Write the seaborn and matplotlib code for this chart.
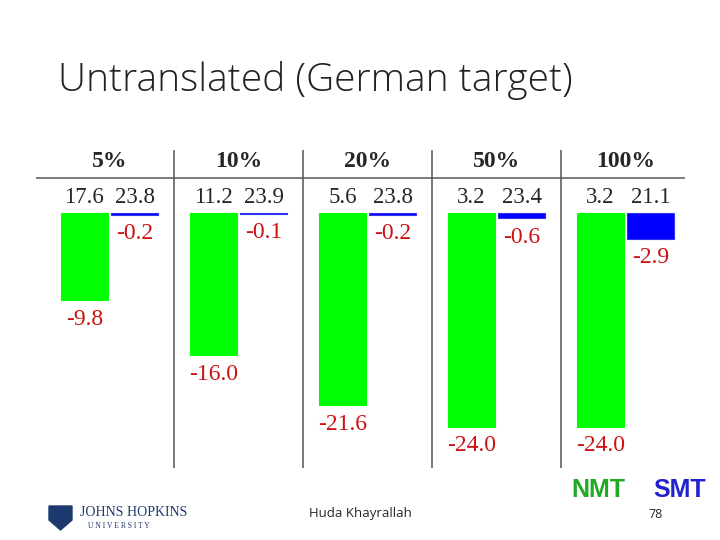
import matplotlib
matplotlib.use("Agg")
import matplotlib.pyplot as plt
import pandas as pd
import seaborn as sns
from matplotlib.patches import Polygon

# Dữ liệu bảng: tỉ lệ dữ liệu huấn luyện, BLEU gốc và mức thay đổi
pcts = ["5%", "10%", "20%", "50%", "100%"]
systems = ["NMT", "SMT"]
nmt_bleu = [17.6, 11.2, 5.6, 3.2, 3.2]
smt_bleu = [23.8, 23.9, 23.8, 23.4, 21.1]
nmt_change = [-9.8, -16.0, -21.6, -24.0, -24.0]
smt_change = [-0.2, -0.1, -0.2, -0.6, -2.9]

df = pd.DataFrame({
    "pct": pcts * 2,
    "system": ["NMT"] * 5 + ["SMT"] * 5,
    "change": nmt_change + smt_change,
    "bleu": nmt_bleu + smt_bleu,
})

sns.set_style("white")
plt.rcParams["font.family"] = ["DejaVu Sans"]

serif = "Liberation Serif"
red = "#cc1111"

fig = plt.figure(figsize=(7.2, 5.4), dpi=100)
ax = fig.add_axes([36 / 720, 1 - 468 / 540, 649 / 720, 318 / 540])

sns.barplot(data=df, x="pct", y="change", hue="system", order=pcts,
            hue_order=systems, palette={"NMT": "#00ff00", "SMT": "#0000ff"},
            width=0.78, gap=0.06, saturation=1, legend=False, ax=ax)
# viền cùng màu để các cột rất mỏng vẫn hiện ra
for cont, col in zip(ax.containers, ["#00ff00", "#3030ee"]):
    for bar in cont:
        bar.set_edgecolor(col)
        bar.set_linewidth(0.8)

ax.set_xlim(-0.570, 4.461)
ax.set_ylim(-28.65, 7.08)
ax.axis("off")

# Nhãn thay đổi màu đỏ dưới mỗi cột
for cont, vals in zip(ax.containers, [nmt_change, smt_change]):
    ax.bar_label(cont, labels=[f"{v:.1f}" for v in vals], padding=6,
                 color=red, fontsize=17, family=serif)

# Hàng BLEU phía trên cột
for cont, vals in zip(ax.containers, [nmt_bleu, smt_bleu]):
    for bar, v in zip(cont, vals):
        ax.text(bar.get_x() + bar.get_width() / 2, 1.7, f"{v:.1f}",
                ha="center", va="center", fontsize=16.5, family=serif)

# Tiêu đề cột
for i, p in enumerate(pcts):
    ax.text(i, 5.75, p, ha="center", va="center", fontsize=17,
            fontweight="bold", family=serif)

ax.axhline(3.93, color="#666666", lw=1.2)
for xs in [0.5, 1.5, 2.5, 3.5]:
    ax.axvline(xs, color="#555555", lw=1.1)

fig.text(58 / 720, 1 - 80 / 540, "Untranslated (German target)",
         fontsize=28, family="Open Sans", fontweight="light",
         ha="left", va="center", color="#222222")

fig.text(598 / 720, 1 - 490 / 540, "NMT", color="#22aa22", fontsize=18,
         fontweight="bold", family="Liberation Sans", ha="center", va="center")
fig.text(680 / 720, 1 - 490 / 540, "SMT", color="#2222cc", fontsize=18,
         fontweight="bold", family="Liberation Sans", ha="center", va="center")

fig.text(360 / 720, 1 - 514 / 540, "Huda Khayrallah", fontsize=9.5,
         ha="center", va="center", family="Open Sans")
fig.text(656 / 720, 1 - 514 / 540, "78", fontsize=9,
         ha="center", va="center", family="Open Sans")

# Logo Johns Hopkins (đơn giản)
navy = "#1d3a6e"
shield = Polygon([[49 / 720, 1 - 506 / 540], [72 / 720, 1 - 506 / 540],
                  [72 / 720, 1 - 520 / 540], [60.5 / 720, 1 - 530 / 540],
                  [49 / 720, 1 - 520 / 540]], closed=True,
                 transform=fig.transFigure, color=navy)
fig.patches.append(shield)
fig.text(80 / 720, 1 - 513 / 540, "JOHNS HOPKINS", fontsize=10,
         family=serif, color=navy, ha="left", va="center")
fig.text(88 / 720, 1 - 526 / 540, "U N I V E R S I T Y", fontsize=5.5,
         family=serif, color=navy, ha="left", va="center")

fig.savefig("out.png", dpi=100)
